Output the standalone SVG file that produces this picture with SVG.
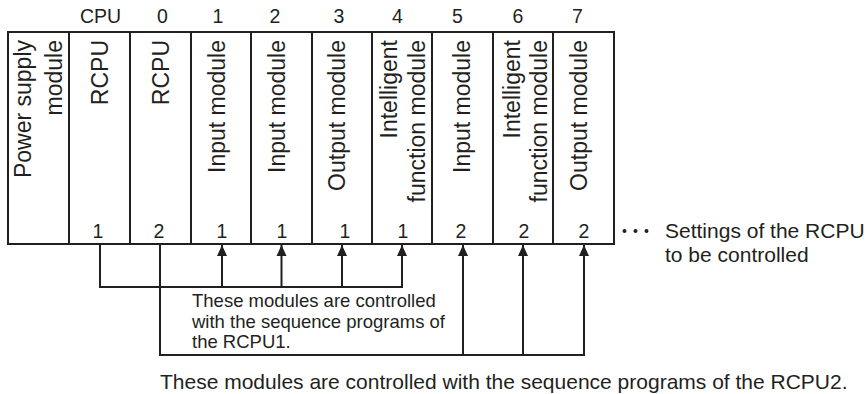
<svg xmlns="http://www.w3.org/2000/svg" width="868" height="394" viewBox="0 0 868 394">
<style>
text{font-family:"Liberation Sans",Arial,sans-serif;fill:#231f20}
.v{font-size:23px;text-anchor:end}
.n{font-size:19.5px;text-anchor:middle}
.box{fill:#fff;stroke:#231f20;stroke-width:2}
.ln{fill:none;stroke:#231f20;stroke-width:2}
.t21{font-size:21px}
.t18{font-size:18.5px}
</style>
<defs>
<marker id="ah" viewBox="0 0 11 11" refX="11" refY="5.5" markerWidth="11" markerHeight="11" markerUnits="userSpaceOnUse" orient="auto">
<path d="M0,0.5 L11,5.5 L0,10.5 Z" fill="#231f20"/>
</marker>
</defs>
<rect x="0" y="0" width="868" height="394" fill="#fff"/>

<g id="m-power">
<rect class="box" x="8" y="32" width="61" height="212"/>
<text class="v" transform="translate(31,40) rotate(-90)">Power supply</text>
<text class="v" transform="translate(61.5,40) rotate(-90)">module</text>
</g>
<g id="m-cpu">
<rect class="box" x="69" y="32" width="61" height="212"/>
<text class="n" x="100.5" y="23">CPU</text>
<text class="v" transform="translate(107.5,40) rotate(-90)">RCPU</text>
<text class="n" x="98" y="238">1</text>
</g>
<g id="m-0">
<rect class="box" x="130" y="32" width="61" height="212"/>
<text class="n" x="162.5" y="23">0</text>
<text class="v" transform="translate(168.5,40) rotate(-90)">RCPU</text>
<text class="n" x="159" y="238">2</text>
</g>
<g id="m-1">
<rect class="box" x="191" y="32" width="60" height="212"/>
<text class="n" x="218" y="23">1</text>
<text class="v" transform="translate(225,40) rotate(-90)">Input module</text>
<text class="n" x="222" y="238">1</text>
</g>
<g id="m-2">
<rect class="box" x="251" y="32" width="61" height="212"/>
<text class="n" x="275" y="23">2</text>
<text class="v" transform="translate(285,40) rotate(-90)">Input module</text>
<text class="n" x="282" y="238">1</text>
</g>
<g id="m-3">
<rect class="box" x="312" y="32" width="60" height="212"/>
<text class="n" x="339" y="23">3</text>
<text class="v" transform="translate(345,40) rotate(-90)">Output module</text>
<text class="n" x="345" y="238">1</text>
</g>
<g id="m-4">
<rect class="box" x="372" y="32" width="60" height="212"/>
<text class="n" x="397.5" y="23">4</text>
<text class="v" transform="translate(397,40) rotate(-90)">Intelligent</text>
<text class="v" transform="translate(425,40) rotate(-90)">function module</text>
<text class="n" x="403" y="238">1</text>
</g>
<g id="m-5">
<rect class="box" x="432" y="32" width="61" height="212"/>
<text class="n" x="457.5" y="23">5</text>
<text class="v" transform="translate(470,40) rotate(-90)">Input module</text>
<text class="n" x="461" y="238">2</text>
</g>
<g id="m-6">
<rect class="box" x="493" y="32" width="60" height="212"/>
<text class="n" x="518" y="23">6</text>
<text class="v" transform="translate(520,40) rotate(-90)">Intelligent</text>
<text class="v" transform="translate(547,40) rotate(-90)">function module</text>
<text class="n" x="524" y="238">2</text>
</g>
<g id="m-7">
<rect class="box" x="553" y="32" width="61" height="212"/>
<text class="n" x="577.5" y="23">7</text>
<text class="v" transform="translate(587,40) rotate(-90)">Output module</text>
<text class="n" x="584" y="238">2</text>
</g>

<g id="connectors">
<polyline class="ln" points="100,244 100,287 402,287"/>
<line class="ln" x1="222" y1="287" x2="222" y2="245" marker-end="url(#ah)"/>
<line class="ln" x1="281.5" y1="287" x2="281.5" y2="245" marker-end="url(#ah)"/>
<line class="ln" x1="342" y1="287" x2="342" y2="245" marker-end="url(#ah)"/>
<line class="ln" x1="402" y1="288" x2="402" y2="245" marker-end="url(#ah)"/>
<polyline class="ln" points="160,244 160,355 584,355"/>
<line class="ln" x1="463" y1="355" x2="463" y2="245" marker-end="url(#ah)"/>
<line class="ln" x1="523" y1="355" x2="523" y2="245" marker-end="url(#ah)"/>
<line class="ln" x1="584" y1="356" x2="584" y2="245" marker-end="url(#ah)"/>
</g>

<g id="legend">
<circle cx="624.5" cy="231" r="2" fill="#231f20"/>
<circle cx="635.5" cy="231" r="2" fill="#231f20"/>
<circle cx="646.5" cy="231" r="2" fill="#231f20"/>
<text class="t21" x="665" y="238">Settings of the RCPU</text>
<text class="t21" x="665" y="262">to be controlled</text>
</g>

<g id="label-rcpu1">
<text class="t18" x="192" y="307">These modules are controlled</text>
<text class="t18" x="192" y="328">with the sequence programs of</text>
<text class="t18" x="192" y="348">the RCPU1.</text>
</g>
<g id="label-rcpu2">
<text class="t21" x="160" y="389">These modules are controlled with the sequence programs of the RCPU2.</text>
</g>
</svg>
